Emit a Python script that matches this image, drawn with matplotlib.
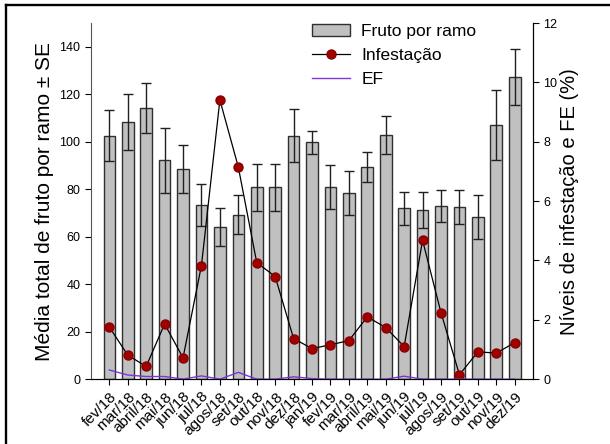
import matplotlib
matplotlib.use('Agg')
import matplotlib.pyplot as plt
from matplotlib.lines import Line2D
import numpy as np

plt.rcParams['font.family'] = ['Liberation Sans', 'DejaVu Sans']

# Dados
meses = ['fev/18', 'mar/18', 'abril/18', 'mai/18', 'jun/18', 'jul/18', 'agos/18',
         'set/18', 'out/18', 'nov/18', 'dez/18', 'jan/19', 'fev/19', 'mar/19',
         'abril/19', 'mai/19', 'jun/19', 'jul/19', 'agos/19', 'set/19', 'out/19',
         'nov/19', 'dez/19']
fruto_media = [102.5, 108.3, 114.1, 92.3, 88.6, 73.3, 64.1, 69.3, 80.8, 80.8, 102.6, 99.8,
               81.0, 78.6, 89.4, 103.0, 71.9, 71.3, 73.1, 72.5, 68.3, 107.2, 127.3]
fruto_se = [10.7, 11.7, 10.6, 13.7, 10.0, 8.8, 7.8, 8.2, 9.8, 9.8, 11.2, 4.8,
            9.4, 9.3, 6.4, 8.0, 6.9, 7.7, 6.7, 7.0, 9.3, 14.8, 11.7]
infestacao = [1.76, 0.81, 0.43, 1.86, 0.72, 3.83, 9.41, 7.15, 3.93, 3.46, 1.37, 1.03,
              1.16, 1.30, 2.10, 1.74, 1.10, 4.68, 2.24, 0.15, 0.92, 0.88, 1.23]
ef = [0.31, 0.14, 0.09, 0.09, 0.0, 0.11, 0.0, 0.23, 0.0, 0.0, 0.08, 0.02,
      0.0, 0.0, 0.0, 0.0, 0.10, 0.0, 0.0, 0.0, 0.0, 0.0, 0.0]

x = np.arange(len(meses))

fig = plt.figure(figsize=(6.1, 4.44), dpi=100)
ax = fig.add_axes([0.149, 0.146, 0.725, 0.802])
ax2 = ax.twinx()

# Barras com erro padrão
ax.bar(x, fruto_media, width=0.63, color='#c0c0c0', edgecolor='#303030', linewidth=1.0,
       yerr=fruto_se, capsize=3.5, error_kw=dict(ecolor='#202020', elinewidth=1.0, capthick=1.0),
       label='Fruto por ramo')

ax2.plot(x, infestacao, color='black', linewidth=0.9, marker='o', markersize=6.5,
         markerfacecolor='#a00000', markeredgecolor='#8a0000', label='Infestação')
ax2.plot(x, ef, color='#7b35d8', linewidth=1.0, label='EF')

ax.set_xlim(-1, 23)
ax.set_ylim(0, 150)
ax2.set_ylim(0, 12)
ax.set_yticks(range(0, 141, 20))
ax2.set_yticks(range(0, 13, 2))
ax.set_xticks(x)
ax.set_xticklabels(meses, rotation=45, ha='right', rotation_mode='anchor', fontsize=11)
ax.tick_params(axis='y', labelsize=9, direction='out', length=4)
ax2.tick_params(axis='y', labelsize=9, direction='out', length=4)
ax.tick_params(axis='x', direction='out', length=4)

for a in (ax, ax2):
    a.spines['top'].set_visible(False)
ax.spines['left'].set_color('#555555')
ax2.spines['left'].set_visible(False)

ax.set_ylabel('Média total de fruto por ramo ± SE', fontsize=15, labelpad=4)
ax2.set_ylabel('Níveis de infestação e FE (%)', fontsize=14.5, labelpad=2)

# Legenda
h1, l1 = ax.get_legend_handles_labels()
h2, l2 = ax2.get_legend_handles_labels()
ax2.legend(h1 + h2, l1 + l2, loc='upper left', bbox_to_anchor=(0.5115, 0.946),
           bbox_transform=fig.transFigure, borderaxespad=0, borderpad=0,
           frameon=False, fontsize=12.5, handlelength=2.2, handletextpad=0.63,
           labelspacing=0.5)

# Moldura (bordas esquerda e superior)
fig.add_artist(Line2D([0.01, 0.01], [0, 0.989], transform=fig.transFigure, color='black', linewidth=1.7))
fig.add_artist(Line2D([0.01, 1.0], [0.989, 0.989], transform=fig.transFigure, color='black', linewidth=1.7))

plt.savefig('out.png', dpi=100)
